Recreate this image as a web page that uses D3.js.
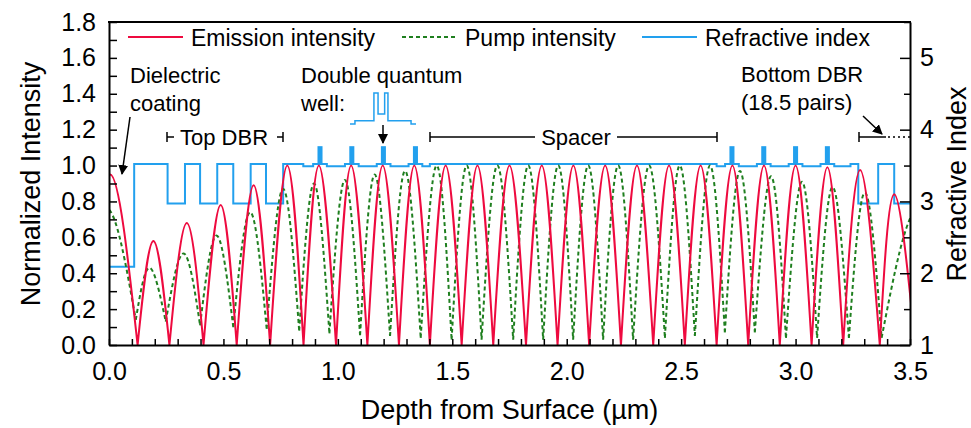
<!DOCTYPE html>
<html>
<head>
<meta charset="utf-8">
<script src="https://cdn.jsdelivr.net/npm/d3@7"></script>
<style>
  body { margin: 0; background: #fff; }
  text { font-family: "Liberation Sans", Arial, sans-serif; fill: #000; }
</style>
</head>
<body>
<svg id="chart" width="971" height="428"></svg>
<script>
// ---- values ----
// emission intensity: alternating zero / peak (depth in µm, normalized value)
var emissionX = [-0.105, 0.005, 0.125, 0.194, 0.264, 0.340, 0.413, 0.488, 0.558, 0.632, 0.704, 0.779,
  0.850, 0.917, 0.992, 1.058, 1.129, 1.196, 1.267, 1.334, 1.402, 1.471, 1.541, 1.610, 1.679, 1.750,
  1.822, 1.891, 1.960, 2.029, 2.098, 2.168, 2.237, 2.307, 2.378, 2.447, 2.516, 2.585, 2.655, 2.724,
  2.793, 2.862, 2.931, 3.000, 3.070, 3.139, 3.208, 3.282, 3.368, 3.431, 3.523];
var emissionY = [0, 0.95, 0, 0.58, 0, 0.68, 0, 0.78, 0, 0.89, 0, 1.0,
  0, 1.0, 0, 1.0, 0, 1.0, 0, 1.0, 0, 1.0, 0, 1.0, 0, 1.0,
  0, 1.0, 0, 1.0, 0, 1.0, 0, 1.0, 0, 1.0, 0, 1.0, 0, 1.0,
  0, 1.0, 0, 1.0, 0, 0.99, 0, 0.975, 0, 0.84, 0];

// pump intensity: alternating minimum / peak
var pumpX = [-0.13, -0.01, 0.117, 0.177, 0.248, 0.326, 0.398, 0.470, 0.543, 0.617, 0.689, 0.761,
  0.831, 0.896, 0.963, 1.031, 1.097, 1.161, 1.228, 1.294, 1.362, 1.432, 1.497, 1.563, 1.628, 1.697,
  1.766, 1.832, 1.897, 1.963, 2.028, 2.094, 2.159, 2.225, 2.290, 2.360, 2.429, 2.494, 2.560, 2.626,
  2.691, 2.757, 2.822, 2.893, 2.958, 3.028, 3.094, 3.162, 3.233, 3.303, 3.376, 3.53, 3.66];
var pumpY = [0.14, 0.76, 0.14, 0.43, 0.13, 0.51, 0.11, 0.61, 0.10, 0.74, 0.09, 0.87,
  0.08, 0.90, 0.065, 0.92, 0.055, 0.95, 0.05, 0.97, 0.04, 1.0, 0.03, 1.0, 0.03, 1.0,
  0.03, 1.0, 0.03, 1.0, 0.03, 1.0, 0.03, 1.0, 0.03, 1.0, 0.04, 1.0, 0.05, 1.0,
  0.07, 0.97, 0.07, 0.94, 0.04, 0.91, 0.04, 0.88, 0.04, 0.85, 0.04, 0.75, 0.1];

// refractive index profile: layer edges (µm) and the index of each layer
var indexEdges = [0, 0.110, 0.256, 0.332, 0.398, 0.473, 0.543, 0.619, 0.686, 0.761,
  0.849, 0.892, 0.952, 1.031, 1.091, 1.170, 1.230, 1.309, 1.369, 1.402,
  2.655, 2.692, 2.752, 2.831, 2.891, 2.970, 3.030, 3.109, 3.169, 3.240,
  3.274, 3.361, 3.431, 3.5];
var indexValues = [2.09, 3.52, 2.97, 3.52, 2.97, 3.52, 2.97, 3.52, 2.97,
  3.52, 3.49, 3.52, 3.49, 3.52, 3.49, 3.52, 3.49, 3.52, 3.49,
  3.52, 3.49, 3.52, 3.49, 3.52, 3.49, 3.52, 3.49, 3.52, 3.49,
  3.52, 2.97, 3.52, 2.97];
var qwCenters = [0.922, 1.061, 1.199, 1.339, 2.722, 2.861, 3.000, 3.139];
var qwIndex = 3.77;

// zoomed double quantum well (nm from the centre, index)
var insetEdges = [-40, -34, -11, -6, -2, 2, 6, 11, 34, 40];
var insetValues = [3.49, 3.52, 3.77, 3.58, 3.58, 3.77, 3.52, 3.52, 3.49];

var xTickValues = [0, 0.5, 1.0, 1.5, 2.0, 2.5, 3.0, 3.5];
var leftTickValues = [0, 0.2, 0.4, 0.6, 0.8, 1.0, 1.2, 1.4, 1.6, 1.8];
var rightTickValues = [1, 2, 3, 4, 5];

// ---- layout ----
var svg = d3.select("#chart");
var pL = 109, pR = 910, pT = 22, pB = 345;
var red = "#ee0a3f", green = "#1f7f1f", blue = "#22a0ee";

var x = d3.scaleLinear().domain([0, 3.5]).range([pL, pR]);
var yL = d3.scaleLinear().domain([0, 1.8]).range([pB, pT]);
var yR = d3.scaleLinear().domain([1, 5.5]).range([pB, pT]);

svg.append("clipPath").attr("id", "plot")
  .append("rect").attr("x", pL).attr("y", pT)
  .attr("width", pR - pL).attr("height", pB - pT);

var g = svg.append("g").attr("clip-path", "url(#plot)");

// refractive index step line
var steps = indexValues.map(function(v, i) { return [indexEdges[i], v]; });
steps.push([indexEdges[indexEdges.length - 1], indexValues[indexValues.length - 1]]);
g.append("path")
  .attr("d", d3.line().x(d => x(d[0])).y(d => yR(d[1])).curve(d3.curveStepAfter)(steps))
  .attr("fill", "none").attr("stroke", blue).attr("stroke-width", 2);

g.selectAll("rect.qw").data(qwCenters).enter().append("rect")
  .attr("class", "qw")
  .attr("x", d => x(d - 0.011)).attr("width", d => x(d + 0.011) - x(d - 0.011))
  .attr("y", yR(qwIndex)).attr("height", yR(3.52) - yR(qwIndex))
  .attr("fill", blue);

// standing-wave lobes: each zero/peak/zero triple drawn as one smooth arch
function lobes(xs, ys) {
  var line = d3.line().x(d => x(d[0])).y(d => yL(d[1])).curve(d3.curveNatural);
  var s = "";
  for (var i = 0; i + 2 < xs.length; i += 2) {
    s += line([[xs[i], ys[i]], [xs[i + 1], ys[i + 1]], [xs[i + 2], ys[i + 2]]]);
  }
  return s;
}

g.append("path").attr("d", lobes(pumpX, pumpY))
  .attr("fill", "none").attr("stroke", green).attr("stroke-width", 2)
  .attr("stroke-dasharray", "4,3");

g.append("path").attr("d", lobes(emissionX, emissionY))
  .attr("fill", "none").attr("stroke", red).attr("stroke-width", 2);

// ---- axes ----
var fmt = d3.format(".1f");
var xAxis = svg.append("g").attr("transform", "translate(0," + pB + ")")
  .call(d3.axisBottom(x).tickValues(d3.range(0, 3.501, 0.1)).tickSize(-6).tickSizeOuter(0)
    .tickPadding(17)
    .tickFormat(d => xTickValues.some(v => Math.abs(v - d) < 1e-6) ? fmt(d) : ""));

var yAxis = svg.append("g").attr("transform", "translate(" + pL + ",0)")
  .call(d3.axisLeft(yL).tickValues(d3.range(0, 1.801, 0.1)).tickSize(-8).tickSizeOuter(0)
    .tickPadding(13)
    .tickFormat(d => leftTickValues.some(v => Math.abs(v - d) < 1e-6) ? fmt(d) : ""));

var rAxis = svg.append("g").attr("transform", "translate(" + pR + ",0)")
  .call(d3.axisRight(yR).tickValues(d3.range(1, 5.501, 0.5)).tickSize(-9).tickSizeOuter(0)
    .tickPadding(10)
    .tickFormat(d => rightTickValues.indexOf(d) >= 0 ? d : ""));
rAxis.selectAll(".tick line").attr("x2", d => rightTickValues.indexOf(d) >= 0 ? -10 : -6);

[xAxis, yAxis, rAxis].forEach(function(a) {
  a.select(".domain").attr("stroke", "#000").attr("stroke-width", 2);
  a.selectAll(".tick line").attr("stroke", "#000").attr("stroke-width", 1.5);
  a.selectAll(".tick text").attr("font-size", 25).attr("fill", "#000");
  a.attr("font-family", null).attr("font-size", null);
});
rAxis.selectAll(".tick text").attr("text-anchor", "start");

svg.append("line").attr("x1", pL - 1).attr("x2", pR + 1).attr("y1", pT).attr("y2", pT)
  .attr("stroke", "#000").attr("stroke-width", 2);

svg.append("text").attr("x", (pL + pR) / 2).attr("y", 419).attr("text-anchor", "middle")
  .attr("font-size", 27).text("Depth from Surface (µm)");
svg.append("text").attr("transform", "translate(40,184) rotate(-90)").attr("text-anchor", "middle")
  .attr("font-size", 27).text("Normalized Intensity");
svg.append("text").attr("transform", "translate(966,184) rotate(-90)").attr("text-anchor", "middle")
  .attr("font-size", 27).text("Refractive Index");

// ---- legend ----
var legend = [
  { label: "Emission intensity", color: red, dash: null, x: 128 },
  { label: "Pump intensity", color: green, dash: "4,3", x: 402 },
  { label: "Refractive index", color: blue, dash: null, x: 642 }
];
legend.forEach(function(d) {
  svg.append("line").attr("x1", d.x).attr("x2", d.x + 55).attr("y1", 37).attr("y2", 37)
    .attr("stroke", d.color).attr("stroke-width", 2).attr("stroke-dasharray", d.dash);
  svg.append("text").attr("x", d.x + 63).attr("y", 45.5).attr("font-size", 23).text(d.label);
});

// ---- annotations ----
var defs = svg.append("defs");
defs.append("marker").attr("id", "arrow").attr("viewBox", "0 0 10 10")
  .attr("refX", 9).attr("refY", 5).attr("markerWidth", 10).attr("markerHeight", 10)
  .attr("markerUnits", "userSpaceOnUse").attr("orient", "auto")
  .append("path").attr("d", "M0,0L10,5L0,10z").attr("fill", "#000");

function note(tx, ty, s) {
  svg.append("text").attr("x", tx).attr("y", ty).attr("font-size", 22).text(s);
}
function seg(x1, y1, x2, y2, opts) {
  var l = svg.append("line").attr("x1", x1).attr("y1", y1).attr("x2", x2).attr("y2", y2)
    .attr("stroke", "#000").attr("stroke-width", 1.5);
  if (opts && opts.arrow) l.attr("marker-end", "url(#arrow)");
  if (opts && opts.dash) l.attr("stroke-dasharray", opts.dash);
  return l;
}

note(130, 83, "Dielectric");
note(130, 111, "coating");
seg(130, 117, 122, 174, { arrow: true });

var by = 137;
seg(167, by - 5, 167, by + 5); seg(167, by, 174, by);
note(180, 145, "Top DBR");
seg(277, by, 283, by); seg(283, by - 5, 283, by + 5);

note(301, 83, "Double quantum");
note(301, 111, "well:");
seg(383, 125, 383, 143, { arrow: true });

seg(430, by - 5, 430, by + 5); seg(430, by, 535, by);
svg.append("text").attr("x", 576).attr("y", 145).attr("text-anchor", "middle")
  .attr("font-size", 22).text("Spacer");
seg(617, by, 717, by); seg(717, by - 5, 717, by + 5);

note(741, 82, "Bottom DBR");
note(741, 110, "(18.5 pairs)");
seg(859, by - 5, 859, by + 5); seg(859, by, 886, by);
seg(888, by, 910, by, { dash: "2,3" });
seg(863, 116, 882, 134, { arrow: true });

// inset of the double quantum well
var ix = d3.scaleLinear().domain([-40, 40]).range([350, 416]);
var iy = d3.scaleLinear().domain([3.49, 3.77]).range([124, 93]);
var insetSteps = insetValues.map(function(v, i) { return [insetEdges[i], v]; });
insetSteps.push([insetEdges[insetEdges.length - 1], insetValues[insetValues.length - 1]]);
svg.append("path")
  .attr("d", d3.line().x(d => ix(d[0])).y(d => iy(d[1])).curve(d3.curveStepAfter)(insetSteps))
  .attr("fill", "none").attr("stroke", blue).attr("stroke-width", 1.5);
</script>
</body>
</html>
